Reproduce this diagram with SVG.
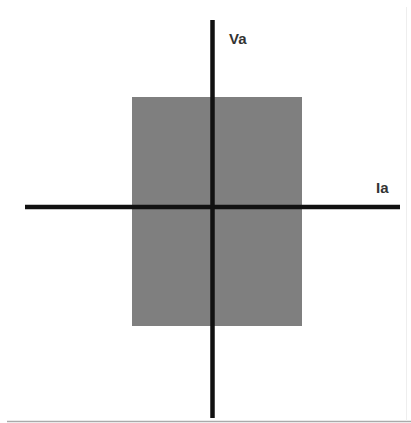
<svg xmlns="http://www.w3.org/2000/svg" width="411" height="423" viewBox="0 0 411 423">
<style>
.axis{stroke:#111;stroke-width:4.5;fill:none}
.lbl{font-family:"Liberation Sans",Arial,sans-serif;font-weight:bold;font-size:15px;fill:#333}
</style>
<rect width="411" height="423" fill="#fff"/>
<line x1="7" y1="421.5" x2="411" y2="421.5" stroke="#aaa" stroke-width="1.5"/>
<line x1="406.5" y1="7" x2="406.5" y2="421" stroke="#eee" stroke-width="1"/>
<g id="region">
<rect x="132" y="97" width="170" height="229" fill="#7f7f7f"/>
</g>
<g id="connectors">
<line class="axis" x1="25" y1="207" x2="400" y2="207"/>
<line class="axis" x1="212.5" y1="20" x2="212.5" y2="418"/>
</g>
<g id="label-va">
<text class="lbl" x="229" y="44">Va</text>
</g>
<g id="label-ia">
<text class="lbl" x="376" y="193">Ia</text>
</g>
</svg>
